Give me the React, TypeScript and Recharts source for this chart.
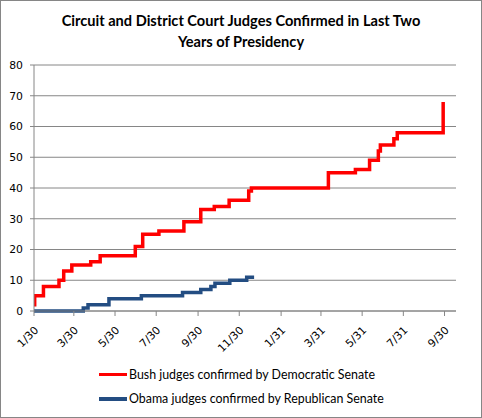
import { CartesianGrid, Line, LineChart, XAxis, YAxis } from "recharts"

// days since 1/30 of the first year
const bushDays = [0, 1, 14, 37, 44, 56, 84, 98, 150, 161, 185, 222, 247, 267, 289, 318, 322, 436, 476, 497, 510, 513, 533, 538, 606]
const bushJudges = [2, 5, 8, 10, 13, 15, 16, 18, 21, 25, 26, 29, 33, 34, 36, 39, 40, 45, 46, 49, 52, 54, 56, 58, 68]

const obamaDays = [0, 73, 80, 111, 159, 220, 247, 262, 268, 290, 315, 326]
const obamaJudges = [0, 1, 2, 4, 5, 6, 7, 8, 9, 10, 11, 11]

const tickDays = [0, 59, 120, 181, 243, 304, 366, 425, 486, 547, 608]
const tickLabels = ["1/30", "3/30", "5/30", "7/30", "9/30", "11/30", "1/31", "3/31", "5/31", "7/31", "9/30"]
const yTicks = [0, 10, 20, 30, 40, 50, 60, 70, 80]

const seriesNames = [
  "Bush judges confirmed by Democratic Senate",
  "Obama judges confirmed by Republican Senate",
]
const RED = "#ff0000"
const BLUE = "#234d82"
const GRID = "#868686"

const bushData = bushDays.map((day, i) => ({ day, judges: bushJudges[i] }))
const obamaData = obamaDays.map((day, i) => ({ day, judges: obamaJudges[i] }))

function DateTick(props: any) {
  const { x, y, payload } = props
  const label = tickLabels[tickDays.indexOf(payload.value)] ?? ""
  const tx = x + 5
  const ty = y + 12.8
  return (
    <text
      x={tx}
      y={ty}
      textAnchor="end"
      transform={`rotate(-45 ${tx} ${ty})`}
      fill="#000"
      fontSize={10.8}
      fontFamily="DejaVu Sans"
    >
      {label}
    </text>
  )
}

export default function App() {
  const colors = [RED, BLUE]
  return (
    <div style={{ position: "relative", width: 482, height: 418, background: "#fff" }}>
      <style>{"body{margin:0}"}</style>
      <div
        style={{
          position: "absolute",
          left: 0,
          top: 0,
          width: 480,
          height: 416,
          border: `1px solid ${GRID}`,
        }}
      />
      <div
        style={{
          position: "absolute",
          left: 0,
          top: 10,
          width: 482,
          textAlign: "center",
          fontFamily: "Lato",
          fontWeight: 700,
          fontSize: 14.6,
          lineHeight: "21px",
          color: "#000",
        }}
      >
        Circuit and District Court Judges Confirmed in Last Two
        <br />
        Years of Presidency
      </div>
      <div style={{ position: "absolute", left: 0, top: 0 }}>
        <LineChart width={482} height={418} margin={{ top: 65, right: 26, bottom: 80, left: 0 }}>
          <CartesianGrid vertical={false} stroke={GRID} strokeWidth={1} />
          <XAxis
            type="number"
            dataKey="day"
            domain={[0, 625]}
            ticks={tickDays}
            allowDataOverflow
            interval={0}
            stroke={GRID}
            tickSize={5}
            tickMargin={2}
            height={27}
            tick={DateTick}
          />
          <YAxis
            type="number"
            domain={[0, 80]}
            ticks={yTicks}
            width={34}
            stroke={GRID}
            tickSize={4}
            tickMargin={7}
            tick={{ fill: "#000", fontSize: 10.8, fontFamily: "DejaVu Sans" }}
          />
          <Line
            data={bushData}
            dataKey="judges"
            type="stepAfter"
            stroke={RED}
            strokeWidth={3.5}
            dot={false}
            isAnimationActive={false}
          />
          <Line
            data={obamaData}
            dataKey="judges"
            type="stepAfter"
            stroke={BLUE}
            strokeWidth={3.5}
            dot={false}
            isAnimationActive={false}
          />
        </LineChart>
      </div>
      {seriesNames.map((name, i) => (
        <div
          key={name}
          style={{
            position: "absolute",
            left: 99,
            top: 365.5 + i * 24.3,
            height: 18,
            display: "flex",
            alignItems: "center",
            fontFamily: "Lato",
            fontSize: 12.4,
            color: "#000",
            whiteSpace: "nowrap",
          }}
        >
          <span style={{ display: "inline-block", width: 28, height: 3.5, background: colors[i], marginRight: 2 }} />
          <span>{name}</span>
        </div>
      ))}
    </div>
  )
}
